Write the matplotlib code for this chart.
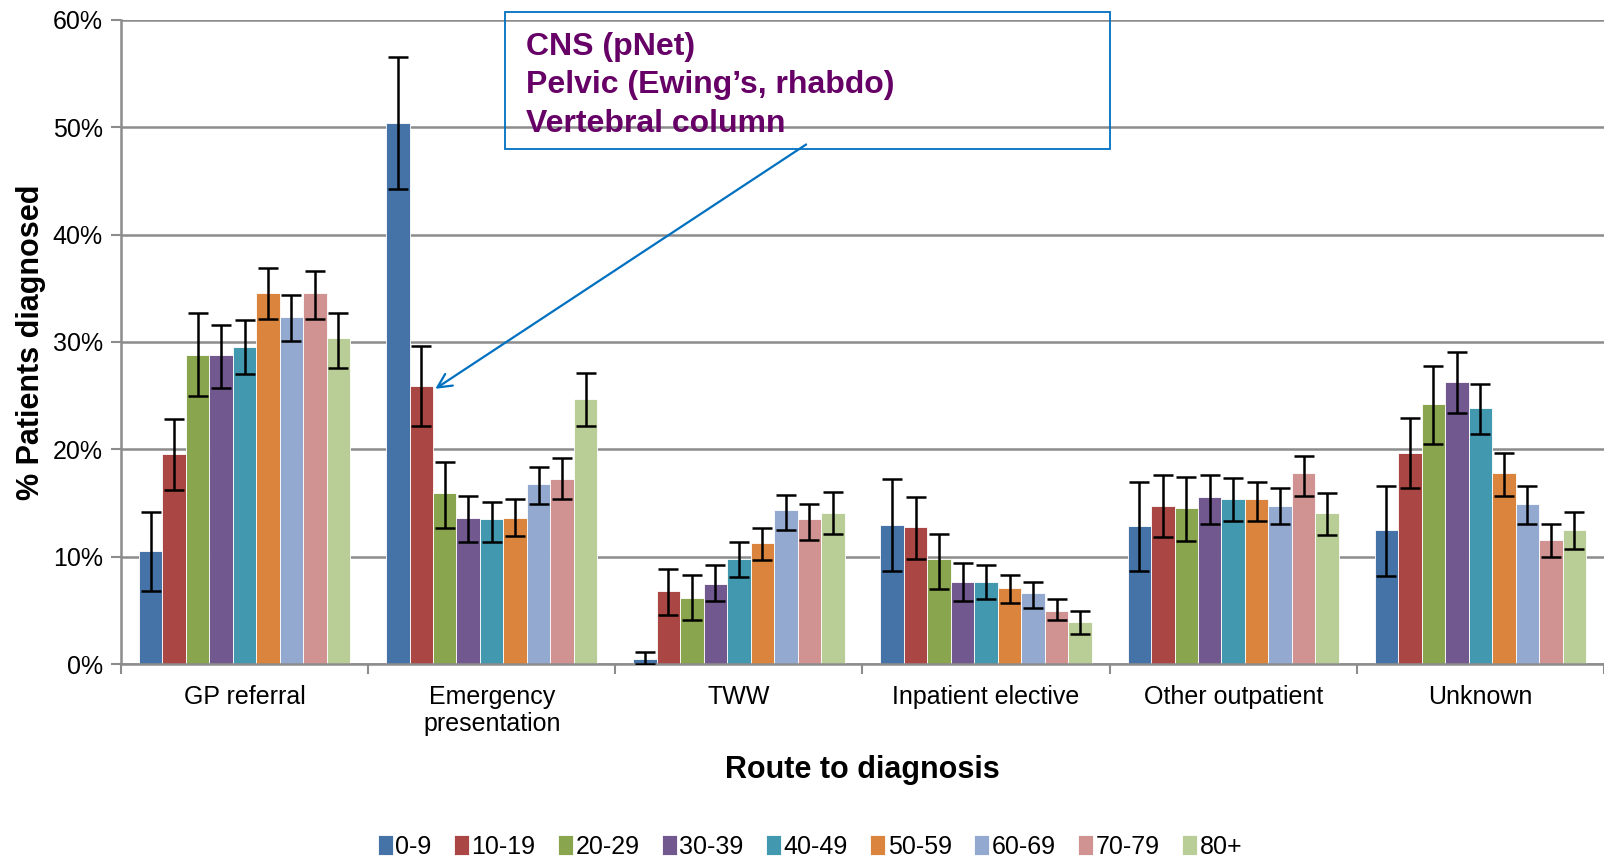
import numpy as np
import matplotlib
matplotlib.use("Agg")
import matplotlib.pyplot as plt

plt.rcParams['font.family'] = ['Liberation Sans', 'DejaVu Sans']

routes = ['GP referral', 'Emergency\npresentation', 'TWW', 'Inpatient elective',
          'Other outpatient', 'Unknown']
ages = ['0-9', '10-19', '20-29', '30-39', '40-49', '50-59', '60-69', '70-79', '80+']
colors = ['#4572A7', '#AA4643', '#89A54E', '#71588F', '#4198AF',
          '#DB843D', '#93A9CF', '#D19392', '#B9CD96']

# % patients diagnosed, one row per age band, columns follow routes
values = [
    [10.5, 50.4, 0.5, 13.0, 12.9, 12.5],
    [19.6, 25.9, 6.8, 12.8, 14.7, 19.7],
    [28.8, 15.9, 6.2, 9.8, 14.5, 24.2],
    [28.8, 13.6, 7.5, 7.7, 15.6, 26.3],
    [29.5, 13.5, 9.8, 7.7, 15.4, 23.9],
    [34.6, 13.6, 11.3, 7.1, 15.4, 17.8],
    [32.3, 16.8, 14.4, 6.6, 14.7, 14.9],
    [34.6, 17.2, 13.5, 5.0, 17.8, 11.6],
    [30.4, 24.7, 14.1, 3.9, 14.1, 12.5],
]
upper = [
    [14.2, 56.5, 1.1, 17.2, 17.0, 16.6],
    [22.8, 29.6, 8.9, 15.6, 17.6, 22.9],
    [32.7, 18.8, 8.3, 12.1, 17.4, 27.8],
    [31.6, 15.7, 9.2, 9.4, 17.6, 29.1],
    [32.0, 15.1, 11.4, 9.2, 17.3, 26.1],
    [36.9, 15.4, 12.7, 8.3, 17.0, 19.7],
    [34.4, 18.4, 15.8, 7.7, 16.4, 16.6],
    [36.6, 19.2, 14.9, 6.1, 19.4, 13.1],
    [32.7, 27.1, 16.0, 5.0, 15.9, 14.2],
]
lower = [
    [6.8, 44.2, 0.0, 8.7, 8.7, 8.2],
    [16.2, 22.2, 4.6, 9.8, 11.8, 16.4],
    [25.0, 12.7, 4.1, 7.0, 11.5, 20.5],
    [25.7, 11.4, 5.9, 5.9, 13.1, 23.4],
    [27.0, 11.4, 8.1, 6.1, 13.3, 21.4],
    [32.1, 11.9, 9.7, 5.7, 13.3, 15.7],
    [30.1, 14.9, 12.5, 5.2, 13.1, 13.1],
    [32.1, 15.4, 11.6, 4.1, 15.7, 10.0],
    [27.6, 22.2, 12.1, 2.8, 12.0, 10.7],
]

fig = plt.figure(figsize=(16.04, 8.56), dpi=100)
ax = fig.add_axes([0.0754, 0.224, 0.9246, 0.753])

x = np.arange(len(routes))
w = 0.095
for j, age in enumerate(ages):
    v = np.array(values[j])
    yerr = [v - np.array(lower[j]), np.array(upper[j]) - v]
    pos = x + (j - 4) * w
    ax.bar(pos, v, width=w, color=colors[j], edgecolor='white', linewidth=0.6,
           label=age, zorder=2)
    ax.errorbar(pos, v, yerr=yerr, fmt='none', ecolor='black', elinewidth=1.8,
                capsize=7, capthick=1.8, zorder=3)

ax.set_xlim(-0.5, 5.5)
ax.set_ylim(0, 60)
ax.set_yticks(np.arange(0, 61, 10))
ax.set_yticklabels([f'{t}%' for t in range(0, 61, 10)], fontsize=18)
ax.yaxis.grid(True, color='#8c8c8c', linewidth=1.8, zorder=0)
ax.set_axisbelow(True)

ax.set_xticks(x)
ax.set_xticklabels(routes, fontsize=18, linespacing=1.15)
ax.tick_params(axis='x', which='major', length=0, pad=15)
ax.set_xticks(np.arange(-0.5, 6, 1), minor=True)
ax.tick_params(axis='x', which='minor', length=7, width=1.5, color='#8c8c8c')
ax.tick_params(axis='y', length=7, width=1.5, color='#8c8c8c', pad=6)

for s in ['top', 'right']:
    ax.spines[s].set_visible(False)
for s in ['left', 'bottom']:
    ax.spines[s].set_color('#8c8c8c')
    ax.spines[s].set_linewidth(1.8)

ax.set_ylabel('% Patients diagnosed', fontsize=22, fontweight='bold', labelpad=5)
ax.set_xlabel('Route to diagnosis', fontsize=22, fontweight='bold', labelpad=14)

# callout box
fig.text(0.328, 0.838, 'CNS (pNet)\nPelvic (Ewing\u2019s, rhabdo)\nVertebral column',
         fontsize=23, fontweight='bold', color='#660066', linespacing=1.36,
         va='bottom', ha='left')
box = plt.Rectangle((0.315, 0.826), 0.377, 0.160, transform=fig.transFigure,
                    fill=False, edgecolor='#0070C0', linewidth=1.3)
fig.patches.append(box)
ax.annotate('', xy=(1 - 3 * w + w / 2, 25.5), xycoords='data',
            xytext=(0.504, 0.833), textcoords='figure fraction',
            arrowprops=dict(arrowstyle='->', color='#0070C0', lw=1.6,
                            mutation_scale=25))

leg = fig.legend(loc='center', bbox_to_anchor=(0.505, 0.011), ncol=9, frameon=False,
                 prop={'size': 18},
                 handlelength=0.6, handleheight=0.9, handletextpad=0.1,
                 columnspacing=0.9)

fig.savefig('out.png', dpi=100)
